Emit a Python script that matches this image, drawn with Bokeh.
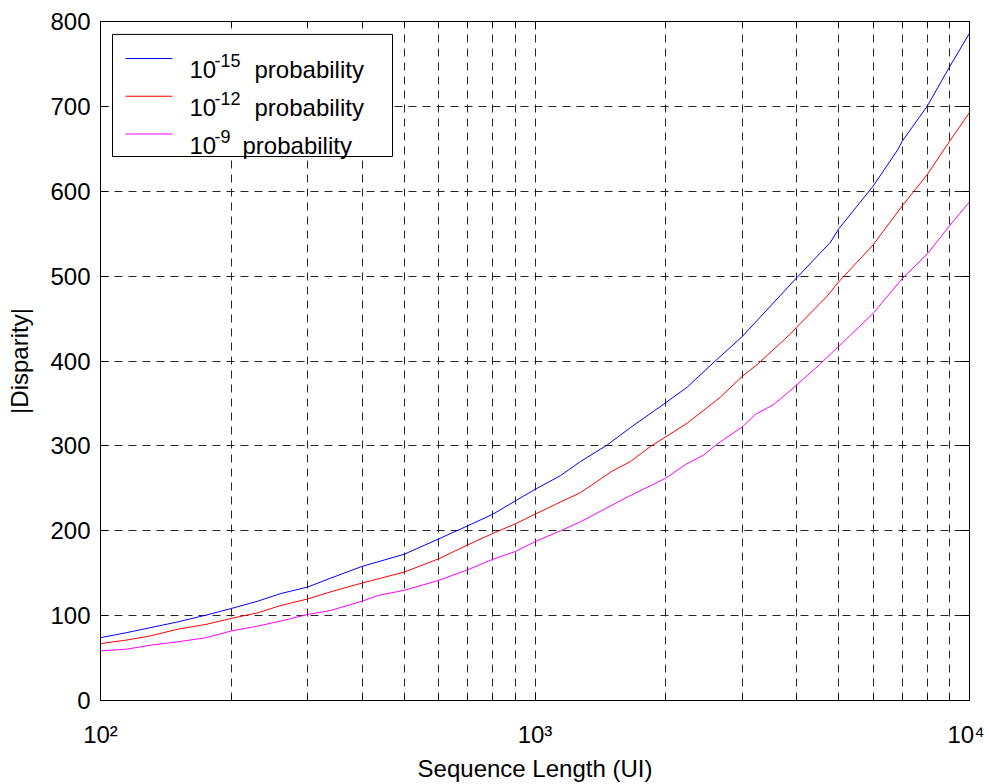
from bokeh.plotting import figure
from bokeh.models import Range1d, FixedTicker, LogAxis, LinearAxis, Label, CustomJSTickFormatter
from bokeh.embed import file_html
from bokeh.resources import INLINE

# ---------------- data ----------------
seq_p15 = [100, 115, 130, 150, 175, 200, 230, 260, 300, 338, 400, 500, 600, 700, 800, 900,
           1000, 1145, 1272, 1466, 1659, 2000, 2240, 2580, 3000, 3673, 4000, 4787, 5000,
           6000, 6818, 7000, 8000, 9000, 10000]
disp_p15 = [74, 80, 85.7, 92.4, 100.6, 108.4, 117, 126, 133.7, 144, 158, 172.3, 190.3, 205.8,
            219.5, 235, 248.7, 265, 281.5, 301, 321.6, 350.9, 369.2, 398.5, 428.9, 477.5,
            497.9, 540, 555.6, 606, 648, 658.8, 700.6, 746.6, 786.3]

seq_p12 = [100, 115, 130, 150, 175, 200, 230, 260, 300, 338, 400, 500, 600, 700, 800, 900,
           1000, 1145, 1272, 1504, 1659, 1845, 2000, 2240, 2673, 3000, 3245, 3873, 4000,
           4702, 5000, 6000, 7000, 8000, 9000, 10000]
disp_p12 = [67, 71.3, 76, 83.8, 89.7, 96.7, 103.3, 111.9, 119.7, 127.9, 138.4, 151.3, 166.9,
            183.3, 196.9, 208, 219.5, 233.9, 244.8, 270.2, 281.5, 299.4, 310.7, 326.7, 357.5,
            382, 395.7, 432, 439.8, 476.4, 493.2, 536.8, 582.8, 619.9, 658.8, 692.8]

seq_p9 = [100, 115, 130, 150, 175, 200, 230, 260, 300, 338, 400, 437, 500, 600, 700, 800, 900,
          1000, 1145, 1272, 1644, 2000, 2221, 2446, 2626, 3000, 3218, 3546, 3873, 4500, 5000,
          6000, 7000, 8000, 9000, 10000]
disp_p9 = [58.5, 60.5, 65.1, 69, 74, 81.9, 87.7, 93.6, 101.4, 106, 117, 124, 129.8, 141.5, 154,
           166.4, 175.4, 187.1, 200, 210.5, 240.6, 262, 278, 289.3, 302.1, 322.4, 337.2, 348.9,
           365.3, 395, 417.2, 456.1, 497, 526.3, 559.4, 587.5]

y_ticks = [0, 100, 200, 300, 400, 500, 600, 700, 800]
x_major = [100, 1000, 10000]
x_minor = [200, 300, 400, 500, 600, 700, 800, 900, 2000, 3000, 4000, 5000, 6000, 7000, 8000, 9000]
x_tick_labels = ["10\u00b2", "10\u00b3", "10\u2074"]

series_exp = ["-15", "-12", "-9"]
series_colors = ["#0000ff", "#ff0000", "#ff00ff"]

# ---------------- layout / style ----------------
FONT = "Liberation Sans"
FS = "24px"
FS_SUP = "18px"
W, H = 984, 784
FR_L, FR_T, FR_R, FR_B = 100, 21, 969, 705   # frame in figure pixels

p = figure(width=W, height=H, x_axis_type="log",
           x_range=Range1d(100, 10000), y_range=Range1d(0, 800),
           output_backend="svg", toolbar_location=None,
           min_border_left=FR_L, min_border_top=FR_T,
           min_border_right=W - FR_R, min_border_bottom=H - FR_B)
p.background_fill_color = "white"
p.border_fill_color = "white"
p.outline_line_color = "black"
p.outline_line_width = 1

xt = FixedTicker(ticks=x_major, minor_ticks=x_minor)
yt = FixedTicker(ticks=y_ticks)
empty = CustomJSTickFormatter(code="return ''")

# grids
for g, t in ((p.xgrid, xt), (p.ygrid, yt)):
    g.ticker = t
    g.grid_line_color = "#262626"
    g.grid_line_dash = "8 6"
    g.grid_line_width = 1
p.xgrid.minor_grid_line_color = "#262626"
p.xgrid.minor_grid_line_dash = "8 6"
p.xgrid.minor_grid_line_width = 1

def style_axis(ax):
    ax.axis_line_color = "black"
    ax.major_tick_line_color = "black"
    ax.minor_tick_line_color = "black"
    ax.major_tick_in = 8
    ax.major_tick_out = 0
    ax.minor_tick_in = 5
    ax.minor_tick_out = 0

# bottom axis
xa = p.xaxis[0]
xa.ticker = xt
style_axis(xa)
xa.major_label_overrides = dict(zip(x_major, x_tick_labels))
xa.major_label_text_font = FONT
xa.major_label_text_font_size = FS
xa.major_label_text_color = "black"
xa.major_label_standoff = 20
xa.axis_label = "Sequence Length (UI)"
xa.axis_label_text_font = FONT
xa.axis_label_text_font_size = FS
xa.axis_label_text_font_style = "normal"
xa.axis_label_text_color = "black"
xa.axis_label_standoff = 4

# left axis
ya = p.yaxis[0]
ya.ticker = yt
style_axis(ya)
ya.minor_tick_line_color = None
ya.major_label_text_font = FONT
ya.major_label_text_font_size = FS
ya.major_label_text_color = "black"
ya.major_label_standoff = 10
ya.axis_label = "|Disparity|"
ya.axis_label_text_font = FONT
ya.axis_label_text_font_size = FS
ya.axis_label_text_font_style = "normal"
ya.axis_label_text_color = "black"
ya.axis_label_standoff = 14

# top and right axes (ticks only)
top = LogAxis(ticker=xt, formatter=empty)
style_axis(top)
p.add_layout(top, "above")
right = LinearAxis(ticker=yt, formatter=empty)
style_axis(right)
right.minor_tick_line_color = None
p.add_layout(right, "right")

# curves
for xs, ys, c in ((seq_p15, disp_p15, series_colors[0]),
                  (seq_p12, disp_p12, series_colors[1]),
                  (seq_p9, disp_p9, series_colors[2])):
    p.line(xs, ys, line_color=c, line_width=1)

# legend (drawn by hand: box, sample lines, texts with superscripts)
def fx(px):  # figure pixel x -> data x
    return 10 ** (2 + (px - FR_L) / ((FR_R - FR_L) / 2.0))
def fy(py):  # figure pixel y -> data y
    return (FR_B - py) * 800.0 / (FR_B - FR_T)

p.quad(left=[fx(112)], right=[fx(392)], top=[fy(34)], bottom=[fy(157)],
       fill_color="white", line_color="black", line_width=1)
text_after = [254, 254, 242]
for i, (ex, c) in enumerate(zip(series_exp, series_colors)):
    yl = 58.3 + 38 * i
    bl = 69.3 + 38.3 * i
    p.segment(x0=[fx(125)], x1=[fx(172)], y0=[fy(yl)], y1=[fy(yl)], line_color=c, line_width=1)
    p.add_layout(Label(x=fx(189), y=fy(bl), text="10", text_align="left",
                       text_baseline="alphabetic", text_font=FONT, text_font_size=FS,
                       text_color="black"))
    p.add_layout(Label(x=fx(214), y=fy(bl - 9), text=ex, text_align="left",
                       text_baseline="alphabetic", text_font=FONT, text_font_size=FS_SUP,
                       text_color="black"))
    p.add_layout(Label(x=fx(text_after[i]), y=fy(bl), text="probability", text_align="left",
                       text_baseline="alphabetic", text_font=FONT, text_font_size=FS,
                       text_color="black"))

open("out.html", "w").write(file_html(p, INLINE))
